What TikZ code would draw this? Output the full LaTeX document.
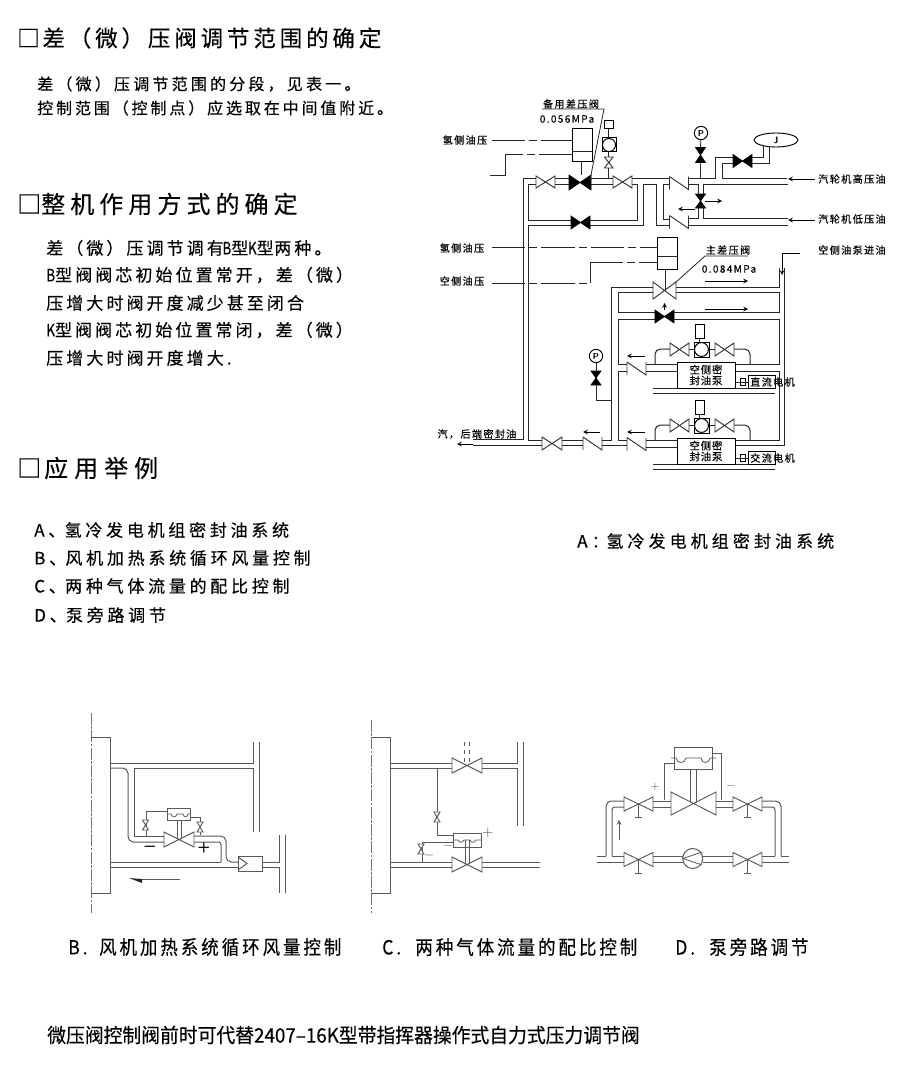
\documentclass[tikz,border=0pt]{standalone}
\usepackage{fontspec}
\newfontfamily\cnfont[LetterSpace=18,FakeBold=0.25]{Noto Sans CJK SC}
\newfontfamily\cntall[LetterSpace=15,FakeStretch=0.9,FakeBold=0.25]{Noto Sans CJK SC}
\newfontfamily\cnfoot[FakeStretch=0.94,FakeBold=0.25]{Noto Sans CJK SC}
\usetikzlibrary{calc}
\usetikzlibrary{shapes.geometric}
\tikzstyle{pipe}=[draw,line width=0.75pt,black!85]
\tikzstyle{thinpipe}=[draw,line width=0.6pt,black!85]
\tikzstyle{lowpipe}=[draw,line width=0.75pt,black!65]
\tikzstyle{lowthin}=[draw,line width=0.6pt,black!65]
\tikzstyle{signal}=[draw,line width=0.6pt,black!85,dash pattern=on 25pt off 3pt on 6pt off 3pt]
\tikzstyle{centerline}=[draw,line width=0.6pt,black!55,dash pattern=on 9pt off 1pt on 2pt off 1pt]
\tikzstyle{openvalve}=[draw=black!80,line width=0.7pt,fill=white]
\tikzstyle{lowvalve}=[draw=black!65,line width=0.7pt,fill=white]
\tikzstyle{fillvalve}=[draw,line width=0.5pt,fill=black]
\tikzstyle{flowarrow}=[draw,line width=0.6pt,-stealth]
\tikzstyle{textline}=[font=\cnfont,anchor=west,inner sep=0pt]
\tikzstyle{smalltext}=[font=\cnfont\fontsize{7.6pt}{9pt}\selectfont\addfontfeature{LetterSpace=13},inner sep=0pt]
\tikzstyle{gauge}=[circle,draw,line width=0.7pt,minimum size=10pt,inner sep=0pt,font=\sffamily\bfseries\fontsize{6.5pt}{7pt}\selectfont]
\tikzstyle{cylinder box}=[rectangle,draw,line width=0.75pt,inner sep=0pt]
\tikzstyle{pumpbox}=[rectangle,draw,line width=0.75pt,fill=white,minimum width=43.5pt,minimum height=19.5pt,inner sep=0pt,align=center,font=\cnfont\fontsize{7.8pt}{8.2pt}\selectfont\addfontfeature{LetterSpace=8}]
\newcommand{\setcn}[2]{\fontsize{#1}{#1}\selectfont\addfontfeature{LetterSpace=#2}}
\newcommand{\nar}[1]{{\addfontfeature{LetterSpace=0}\scalebox{0.8}[1]{#1}}}

\begin{document}
\begin{tikzpicture}[x=0.75pt,y=-0.75pt,>=stealth]
\useasboundingbox (0,0) rectangle (900,1077);

% Text on the left
\foreach \pos/\name/\size/\ls/\label in {{(17,38)/headA/16.9/17/□\kern2pt差（微）压阀调节范围的确定},{(17,204)/headB/18/21/□\kern0pt整机作用方式的确定},{(17,468)/headC/18/25/□\kern2.2pt应用举例},
  {(37,84)/bodyA/12/20/差（微）压调节范围的分段，见表一。},{(37,108)/bodyB/12/18/控制范围（控制点）应选取在中间值附近。},
  {(46,248)/bodyC/12.75/18/差（微）压调节调有\kern-1pt\nar{B}型\kern-0.3pt\nar{K}型\kern0.5pt两种。},{(46,275)/bodyD/12.75/18/\nar{B}型阀阀芯初始位置常开，差（微）},{(46,303)/bodyE/12.75/18/压增大时阀开度减少甚至闭合},
  {(46,330)/bodyF/12.75/18/\nar{K}型阀阀芯初始位置常闭，差（微）},{(46,358)/bodyG/12.75/18/压增大时阀开度增大.},
  {(34,530)/listA/12.75/22/A、\kern-0.5pt氢冷发电机组密封油系统},{(34,558)/listB/12.75/22/B、\kern-0.5pt风机加热系统循环风量控制},{(34,586)/listC/12.75/22/C、\kern-0.5pt两种气体流量的配比控制},{(34,615)/listD/12.75/22/D、\kern-0.5pt泵旁路调节},
  {(577,541)/capA/12.75/24/A：\kern-1.7pt氢冷发电机组密封油系统}}
    \node[textline] (\name) at \pos {\setcn{\size}{\ls}\label};

\foreach \pos/\name/\label in {{(68,947)/capB/B. \kern3.5pt风机加热系统循环风量控制},{(382,947)/capC/C. \kern5.5pt两种气体流量的配比控制},{(675,947)/capD/D. \kern5.5pt泵旁路调节}}
    \node[textline,font=\cntall\fontsize{14.6pt}{15pt}\selectfont] (\name) at \pos {\label};
\node[textline,font=\cnfoot\fontsize{15pt}{15pt}\selectfont] (footA) at (47,1035) {微压阀控制阀前时可代替2407–16K型带指挥器操作式自力式压力调节阀};

% Labels of the oil system
\foreach \pos/\name/\label in {{(465,140)/lblH/氢侧油压},{(462,248)/lblHb/氢侧油压},{(462,281)/lblK/空侧油压},{(571,104)/lblSpare/备用差压阀},{(567,119)/lblSpareP/0.056MPa},
  {(728,250)/lblMain/主差压阀},{(729,269)/lblMainP/0.084MPa},{(852,179)/lblHigh/汽轮机高压油},{(852,219)/lblLow/汽轮机低压油},{(852,250)/lblIn/空侧油泵进油},{(477,434)/lblOut/汽，后端密封油}}
    \node[smalltext] (\name) at \pos {\label};

% Upper loop
\path[pipe] (473,439) -- (523,439) -- (523,178) -- (536,178) (555,178) -- (569,178) (591,178) -- (613,178) (632,178) -- (670,178);
\path[pipe] (571,220) -- (528,220) -- (528,184) -- (536,184) (555,184) -- (569,184) (591,184) -- (613,184);
\path[pipe] (632,184) -- (637,184) -- (637,220) -- (590,220);
\path[pipe] (571,225) -- (528,225) -- (528,440) -- (542,440) (473,445) -- (542,445);
\path[pipe] (590,225) -- (643,225) -- (643,184) -- (656,184) -- (656,225) -- (670,225);
\path[pipe] (670,184) -- (663,184) -- (663,219) -- (670,219);
\path[pipe] (688,178) -- (715,178) -- (715,158) -- (733,158) (733,164) -- (722,164) -- (722,178) -- (787,178);
\path[pipe] (688,184) -- (698,184) -- (698,194) (703,194) -- (703,184) -- (788,184);
\path[pipe] (698,208) -- (698,218) -- (688,218) (703,208) -- (703,218) -- (788,218) (688,225) -- (788,225);

% Lower loops
\path[pipe] (602,440) -- (611,440) -- (611,287) -- (653,287) (676,287) -- (779,287) -- (779,268);
\path[pipe] (655,292) -- (618,292) -- (618,312) -- (655,312) (674,312) -- (779,312) -- (779,292) -- (676,292);
\path[pipe] (655,319) -- (618,319) -- (618,364) -- (627,364) (674,319) -- (779,319) -- (779,364) -- (735,364);
\path[pipe] (627,371) -- (618,371) -- (618,440) -- (627,440) (602,445) -- (627,445);
\path[pipe] (735,371) -- (779,371) -- (779,440) -- (735,440) (735,445) -- (784,445) -- (784,268);
\path[pipe] (562,440) -- (583,440) (562,445) -- (583,445);
\foreach \dy in {0,76}
{
    \path[pipe] (646,364+\dy) -- (677,364+\dy) (646,371+\dy) -- (677,371+\dy);
    \path[pipe,rounded corners=4pt] (655,364+\dy) -- (655,349+\dy) -- (670,349+\dy) (734,349+\dy) -- (750,349+\dy) -- (750,364+\dy);
    \path[pipe] (689,349+\dy) -- (694,349+\dy) (709,349+\dy) -- (715,349+\dy);
    \path[pipe] (653,388+\dy) -- (775,388+\dy) (653,393+\dy) -- (775,393+\dy);
    \draw[cylinder box] (694,342+\dy) rectangle (709,357+\dy);
    \draw[line width=0.75pt,fill=white] (701.5,349.5+\dy) circle[radius=5.2pt];
    \draw[cylinder box] (695,324+\dy) rectangle (704,338+\dy);
    \path[pipe] (699.5,338+\dy) -- (699.5,342+\dy);
    \draw[cylinder box] (748,375+\dy) rectangle (775,388+\dy);
    \draw[cylinder box] (740,378+\dy) rectangle (745,385+\dy);
    \path[thinpipe] (735,382+\dy) -- (748,382+\dy);
}
\node[pumpbox] (pumpA) at (706,375) {空侧密\\封油泵};
\node[pumpbox] (pumpB) at (706,451) {空侧密\\封油泵};
\node[smalltext,anchor=west] (motorA) at (750,382) {直流电机};
\node[smalltext,anchor=west] (motorB) at (750,458) {交流电机};

% Valves
\foreach \cx/\cy/\dw/\dh in {545.5/182/9.5/6,622.5/182/9.5/6,664.5/290.5/11.5/8.5,679.5/349.5/9.5/6.5,724.5/349.5/9.5/6.5,679.5/425.5/9.5/6.5,724.5/425.5/9.5/6.5,552/443.5/10/6.5}
    \path[openvalve] (\cx-\dw,\cy-\dh) -- (\cx+\dw,\cy+\dh) -- (\cx+\dw,\cy-\dh) -- (\cx-\dw,\cy+\dh) -- cycle;
\foreach \cx/\cy/\dw/\dh in {580/182.5/11/7.5,580.5/222.5/9.5/6.5,742.5/161/9.5/6.5,664.5/316.5/9.5/6.5}
    \path[fillvalve] (\cx-\dw,\cy-\dh) -- (\cx+\dw,\cy+\dh) -- (\cx+\dw,\cy-\dh) -- (\cx-\dw,\cy+\dh) -- cycle;
\foreach \cx/\cy/\dw/\dh in {700.5/155/5/7.5,700.5/201/5/7,596/378/5/7}
    \path[fillvalve] (\cx-\dw,\cy-\dh) -- (\cx+\dw,\cy+\dh) -- (\cx-\dw,\cy+\dh) -- (\cx+\dw,\cy-\dh) -- cycle;
\path[openvalve] (604.5,157) -- (613,168) -- (604.5,168) -- (613,157) -- cycle;
% Check valves
\foreach \cx/\cy in {679/183,679/222,636.5/368.5,636.5/444,592.5/443.5}
    \path[openvalve,fill=none] (\cx-9.5,\cy-6.5) -- (\cx-9.5,\cy+6.5) (\cx-9.5,\cy-6.5) -- (\cx+9.5,\cy+6.5) -- (\cx+9.5,\cy-6.5);

% Actuators, gauges
\draw[cylinder box] (572,129) rectangle (592,162);
\path[thinpipe] (572,151) -- (592,151);
\path[thinpipe] (581,162) -- (581,175);
\draw[cylinder box] (657,237) rectangle (677,269);
\path[thinpipe] (657,256) -- (677,256);
\path[thinpipe] (665,269) -- (665,290);
\draw[cylinder box] (604,121) rectangle (613,129);
\draw[cylinder box] (602,138) rectangle (616,152);
\draw[line width=0.75pt] (609,145) circle[radius=4.9pt];
\path[thinpipe] (608.5,129) -- (608.5,138) (608.5,152) -- (608.5,157) (608.5,168) -- (608.5,178);
\node[gauge] (gaugeA) at (701,133) {P};
\node[gauge] (gaugeB) at (596,356) {P};
\node[ellipse,draw,line width=0.7pt,minimum width=33pt,minimum height=10.5pt,inner sep=0pt,font=\sffamily\bfseries\fontsize{7pt}{7pt}\selectfont] (gaugeJ) at (776,140) {J};
\draw[thinpipe] (gaugeA) -- (700.5,147.5) (700.5,162.5) -- (700.5,178);
\draw[thinpipe] (gaugeB) -- (596,371) (596,385) -- (596,400) -- (611,400);
\path[pipe] (752,158) -- (763,158) -- (763,146) (752,164) -- (769,164) -- (769,146);

% Leaders
\path[thinpipe] (542,109) -- (604,109) -- (590,180);
\path[thinpipe] (748,256) -- (705,256) -- (675,283);
\path[signal] (492,140) -- (572,140);
\path[signal] (572,154) -- (505,154);
\path[thinpipe] (505,154) -- (505,175) -- (490,175);
\path[signal] (492,247) -- (657,247);
\path[signal] (492,283) -- (590,283);
\path[thinpipe] (590,283) -- (590,262);
\path[signal] (590,262) -- (657,262);

% Flow arrows
\path[flowarrow] (815,179) -- (788,179);
\path[flowarrow] (815,220) -- (788,220);
\path[flowarrow] (705,201) -- (722,201);
\path[flowarrow] (695,209) -- (678,209);
\path[flowarrow] (705,281) -- (748,281);
\path[flowarrow] (705,309) -- (748,309);
\path[flowarrow] (664.5,310) -- (664.5,303);
\path[flowarrow] (645,356) -- (627,356);
\path[flowarrow] (645,432) -- (627,432);
\path[flowarrow] (600,432) -- (583,432);
\path[flowarrow] (473,444) -- (457,444);
\path[flowarrow] (800,253) -- (782,253) -- (782,275);

% Diagram B
\path[centerline] (91,713) -- (91,913);
\path[lowpipe] (91,737) -- (110,737) -- (110,893) -- (91,893);
\path[lowpipe] (110,763) -- (253,763) -- (253,742) (259,742) -- (259,832) (253,832) -- (253,768) -- (134,768) -- (134,836) -- (164,836);
\path[lowpipe,rounded corners=4pt] (110,768) -- (128,768) -- (128,842) -- (164,842);
\path[lowpipe,rounded corners=4pt] (194,836) -- (226,836) -- (226,862) -- (238,862);
\path[lowpipe,rounded corners=2pt] (194,842) -- (221,842) -- (221,862);
\path[lowpipe] (110,862) -- (221,862) (110,867) -- (238,867);
\path[lowpipe] (262,862) -- (279,862) -- (279,835) (262,867) -- (279,867) -- (279,893) (285,835) -- (285,893);
\draw[lowpipe] (238,856) rectangle (262,871);
\path[lowpipe] (238,857) -- (247,863.5) -- (238,870);
\path[lowvalve] (164,832) -- (194,847) -- (194,832) -- (164,847) -- cycle;
\draw[lowpipe] (167,808) rectangle (190,820);
\path[lowthin] (177,820) -- (177,838) (181,820) -- (181,838);
\path[lowthin] (167,814) -- (171,814) .. controls (172,818) and (176,818) .. (177,814) -- (183,814) .. controls (184,818) and (187,818) .. (188,814) -- (190,814);
\path[lowthin] (167,811) -- (146,811) -- (146,836) (190,817) -- (200,817) -- (200,835);
\foreach \cx/\cy in {145.5/825,200/827}
    \path[lowvalve] (\cx-3,\cy-5) -- (\cx+3,\cy+5) -- (\cx-3,\cy+5) -- (\cx+3,\cy-5) -- cycle;
\path[lowthin] (180,879) -- (141,879);
\path[fill=black!85] (129,878) -- (142,879) -- (142,883) -- cycle;
\node[font=\sffamily\bfseries\fontsize{11pt}{12pt}\selectfont,inner sep=0pt] (minusB) at (150,848) {−};
\node[font=\sffamily\bfseries\fontsize{11pt}{12pt}\selectfont,inner sep=0pt] (plusB) at (204,848) {+};

% Diagram C
\path[centerline] (371,720) -- (371,913);
\path[lowpipe] (371,737) -- (390,737) -- (390,893) -- (371,893);
\path[lowpipe] (390,763) -- (452,763) (390,768) -- (452,768) (482,763) -- (517,763) -- (517,742) (482,768) -- (517,768) -- (517,826) (523,742) -- (523,826);
\path[lowvalve] (452,758) -- (482,773) -- (482,758) -- (452,773) -- cycle;
\path[lowthin,dashed] (464,742) -- (464,765) (469,742) -- (469,765);
\path[lowthin] (437,768) -- (437,835) -- (453,835);
\path[lowthin] (453,842) -- (422,842) -- (422,862);
\foreach \cx/\cy in {437/817,421/849}
    \path[lowvalve] (\cx-3,\cy-5) -- (\cx+3,\cy+5) -- (\cx-3,\cy+5) -- (\cx+3,\cy-5) -- cycle;
\draw[lowpipe] (453,833) rectangle (481,847);
\path[lowthin] (453,840) -- (458,840) .. controls (459,843) and (463,843) .. (464,840) -- (470,840) .. controls (471,843) and (475,843) .. (476,840) -- (481,840);
\path[lowthin] (465,840) -- (465,864) (469,840) -- (469,864);
\path[lowpipe] (390,862) -- (452,862) (390,867) -- (452,867) (482,862) -- (540,862) (482,867) -- (540,867);
\path[lowvalve] (452,857) -- (482,872) -- (482,857) -- (452,872) -- cycle;
\node[font=\sffamily\fontsize{11pt}{12pt}\selectfont,inner sep=0pt,black!70] (plusC) at (488,833) {+};
\node[font=\sffamily\fontsize{8pt}{9pt}\selectfont,inner sep=0pt,black!70] (minusC) at (448,847) {−};
\node[font=\sffamily\fontsize{9pt}{10pt}\selectfont,inner sep=0pt,black!70] (minusD) at (429,857) {−};

% Diagram D
\draw[lowpipe] (674,747) rectangle (712,769);
\path[lowthin] (671,758) -- (676,758) .. controls (677,764) and (685,764) .. (686,758) -- (701,758) .. controls (702,764) and (709,764) .. (710,758) -- (716,758);
\path[lowpipe] (690,769) -- (690,803) (696,769) -- (696,803);
\path[lowthin] (674,763) -- (664,763) -- (664,800) (712,753) -- (721,753) -- (721,800);
\path[lowvalve] (671,792) -- (716,815) -- (716,792) -- (671,815) -- cycle;
\path[lowpipe] (653,801) -- (671,801) (653,807) -- (671,807) (716,801) -- (733,801) (716,807) -- (733,807);
\path[lowpipe,rounded corners=4pt] (624,801) -- (606,801) -- (606,856);
\path[lowpipe,rounded corners=2pt] (624,807) -- (612,807) -- (612,856);
\path[lowpipe,rounded corners=4pt] (762,801) -- (781,801) -- (781,856);
\path[lowpipe,rounded corners=2pt] (762,807) -- (775,807) -- (775,856);
\path[lowpipe] (597,856) -- (606,856) (612,856) -- (624,856) (597,862) -- (624,862) (653,856) -- (683,856) (653,862) -- (683,862);
\path[lowpipe] (703,856) -- (733,856) (703,862) -- (733,862) (762,856) -- (775,856) (781,856) -- (789,856) (762,862) -- (789,862);
\foreach \cx/\cy in {638.5/804,747.5/804,638.5/859.5,747.5/859.5}
{
    \path[lowvalve] (\cx-14.5,\cy-7) -- (\cx+14.5,\cy+7) -- (\cx+14.5,\cy-7) -- (\cx-14.5,\cy+7) -- cycle;
    \path[lowthin] (\cx,\cy) -- (\cx,\cy+13.5) (\cx-3.5,\cy+13.5) -- (\cx+3.5,\cy+13.5);
}
\node[circle,draw=black!65,line width=0.75pt,fill=white,minimum size=15pt,inner sep=0pt] (pumpD) at (692.7,858.5) {};
\path[lowthin] (702,852) -- (683,858.5) -- (702,865);
\path[flowarrow,black!65] (619,840) -- (619,820);
\node[font=\sffamily\fontsize{8pt}{9pt}\selectfont,inner sep=0pt,black!70] (plusE) at (655,787) {+};
\node[font=\sffamily\fontsize{8pt}{9pt}\selectfont,inner sep=0pt,black!70] (minusE) at (731,787) {−};

\end{tikzpicture}
\end{document}
